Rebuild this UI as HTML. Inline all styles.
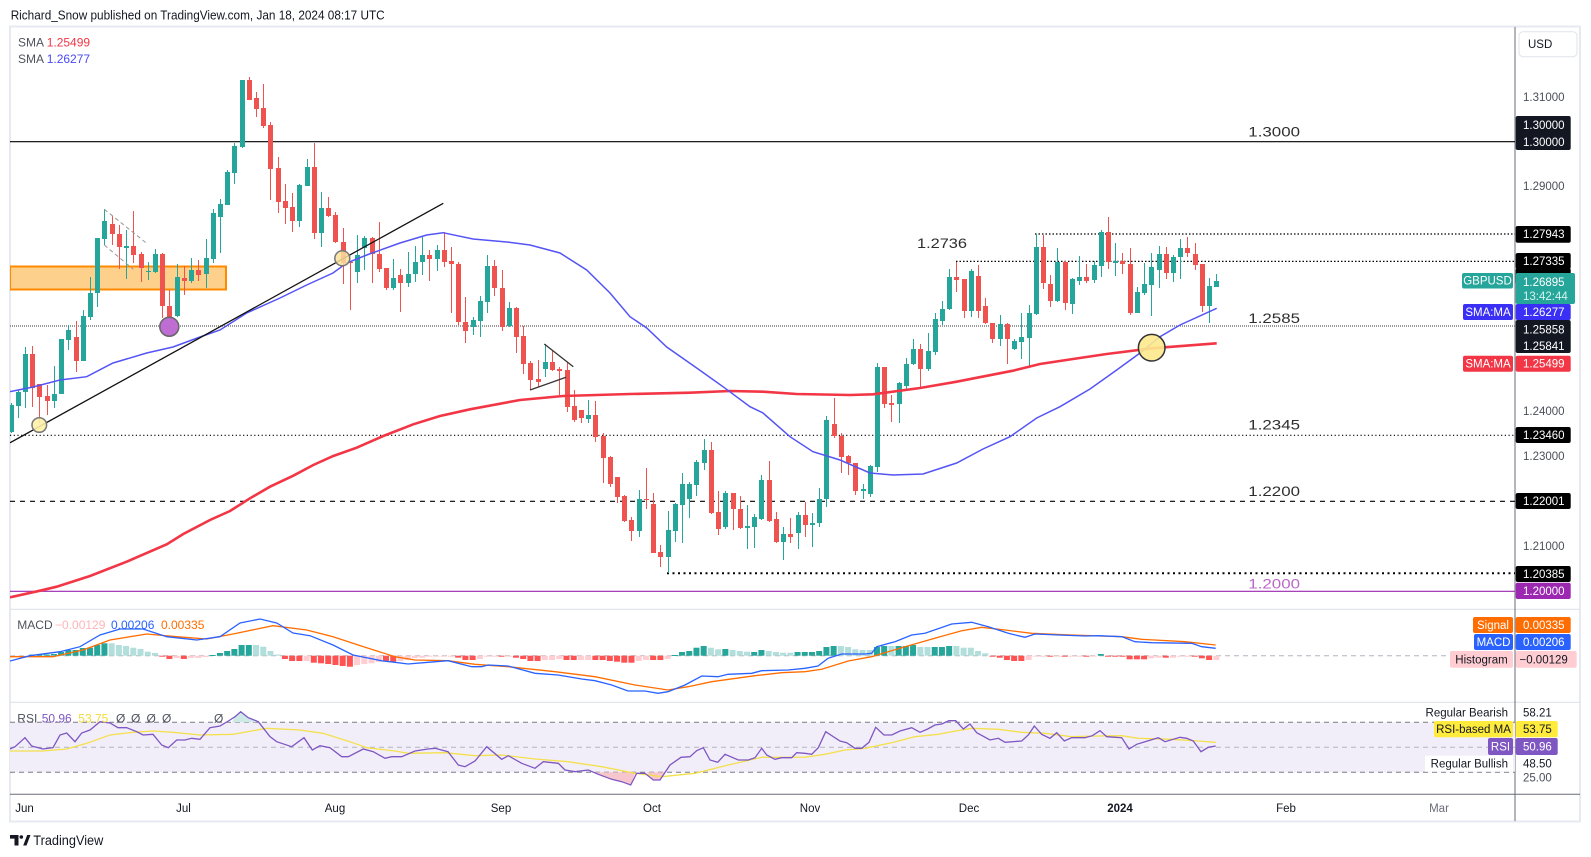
<!DOCTYPE html>
<html><head><meta charset="utf-8"><style>
html,body{margin:0;padding:0;background:#fff;}
svg{display:block;font-family:"Liberation Sans",Arial,sans-serif;}
</style></head><body>
<svg id="c" width="1591" height="857" viewBox="0 0 1591 857" xmlns="http://www.w3.org/2000/svg">
<defs>
<clipPath id="mp"><rect x="10" y="27" width="1505" height="582"/></clipPath>
<clipPath id="mc"><rect x="10" y="610" width="1505" height="92"/></clipPath>
<clipPath id="rc"><rect x="10" y="703" width="1505" height="91"/></clipPath>
</defs>
<rect width="1591" height="857" fill="#fff"/>
<text x="10.7" y="19.5" font-size="12.5" fill="#131722" textLength="374" lengthAdjust="spacingAndGlyphs">Richard_Snow published on TradingView.com, Jan 18, 2024 08:17 UTC</text>

<!-- frame -->
<rect x="10" y="26.5" width="1570" height="795" fill="none" stroke="#e6e9f0" stroke-width="2"/>
<line x1="10" x2="1580" y1="609.3" y2="609.3" stroke="#e0e3eb" stroke-width="1.2"/>
<line x1="10" x2="1580" y1="702.3" y2="702.3" stroke="#e0e3eb" stroke-width="1.2"/>
<line x1="10" x2="1580" y1="794.3" y2="794.3" stroke="#6a6d78" stroke-width="1"/>
<line x1="1515" x2="1515" y1="27" y2="821" stroke="#6a6d78" stroke-width="1"/>

<!-- USD box -->
<rect x="1519" y="31.7" width="58" height="25" rx="4" fill="#fff" stroke="#e0e3eb"/>
<text x="1528" y="48" font-size="11.5" fill="#131722">USD</text>

<!-- main pane -->
<g clip-path="url(#mp)">
<rect x="10" y="266.5" width="216" height="23" fill="#fdd08c" stroke="#ff8a00" stroke-width="2"/>
<line x1="10" x2="1515" y1="141.7" y2="141.7" stroke="#000" stroke-width="1.2"/>
<line x1="1035" x2="1515" y1="234" y2="234" stroke="#000" stroke-width="1.2" stroke-dasharray="1.5,2"/>
<line x1="956" x2="1515" y1="261.4" y2="261.4" stroke="#000" stroke-width="1.2" stroke-dasharray="1.5,2"/>
<line x1="10" x2="1515" y1="326" y2="326" stroke="#787878" stroke-width="1.4" stroke-dasharray="1,1"/>
<line x1="10" x2="1515" y1="435.3" y2="435.3" stroke="#000" stroke-width="1.2" stroke-dasharray="1.2,2.5"/>
<line x1="10" x2="1515" y1="501.3" y2="501.3" stroke="#000" stroke-width="1.2" stroke-dasharray="5,5"/>
<line x1="667" x2="1515" y1="573.3" y2="573.3" stroke="#000" stroke-width="2" stroke-dasharray="2,3.5"/>
<line x1="10" x2="1515" y1="591.3" y2="591.3" stroke="#9c27b0" stroke-width="1.2"/>
<g id="candles"></g>
<polyline fill="none" stroke="#f23645" stroke-width="2.6" points="10,597.3 40,590.7 56.7,586.7 90,576 126.7,561.7 166.7,544.3 183.3,534 210,520 230,511 250,498.3 270,486.7 293.3,475.7 313.3,465 333.3,456 356.7,447.7 383.3,436 413.3,424.3 440,416 470,409.3 520,400 563,396 630,394 690,392.7 730,391 763,391.7 796.7,394 850,395 873,394.3 920,388 956.7,381.7 1013,370.7 1040,364 1073,359 1106.7,354 1151.7,348.3 1216.7,343.3"/>
<polyline fill="none" stroke="#5454f5" stroke-width="1.5" points="10,391.7 33,387 60,380 86.7,376.7 113,363 146.7,353 173,347 200,337 220,330 246.7,313 280,298 306.7,285 333,273 346.7,263 366.7,255 400,243 426.7,235 443,232.7 473,239 506.7,242 530,245 560,253 586.7,270 610,293 630,316.7 646.7,328 666.7,347 696.7,368 723,386.7 750,406.7 763,413 790,436.7 813,451.7 840,460 870,473 893,475 923,474 956.7,463 983,449 1010,436.7 1036.7,418 1060,406.7 1090,389 1116.7,370 1140,353 1160,336.7 1180,325 1216.7,308.3"/>
<!-- drawings -->
<line x1="10" y1="442.8" x2="443.3" y2="203.3" stroke="#111" stroke-width="1.3"/>
<line x1="104.3" y1="209.3" x2="146.7" y2="243.3" stroke="#9a9a9a" stroke-width="1" stroke-dasharray="4,3"/>
<line x1="104.3" y1="245" x2="133.3" y2="269.3" stroke="#9a9a9a" stroke-width="1" stroke-dasharray="4,3"/>
<line x1="544.3" y1="344" x2="573.3" y2="366.7" stroke="#333" stroke-width="1.3"/>
<line x1="530" y1="390" x2="566" y2="377.3" stroke="#333" stroke-width="1.3"/>
<circle cx="39.3" cy="425" r="7.3" fill="#fff1a8" fill-opacity="0.9" stroke="#777" stroke-width="1.5"/>
<circle cx="342.3" cy="258.3" r="7.5" fill="#fbe09c" fill-opacity="0.85" stroke="#777" stroke-width="1.5"/>
<circle cx="169.3" cy="326.7" r="9.5" fill="#be6ed2" stroke="#666" stroke-width="1.5"/>
<circle cx="1151.7" cy="347.7" r="13.3" fill="#fde98c" fill-opacity="0.9" stroke="#333" stroke-width="1.5"/>
</g>

<!-- level texts -->
<g font-size="14" fill="#2e2e2e">
<text x="917" y="248" textLength="50" lengthAdjust="spacingAndGlyphs">1.2736</text>
<text x="1248.3" y="136.7" textLength="51.7" lengthAdjust="spacingAndGlyphs">1.3000</text>
<text x="1248.3" y="323" textLength="51.7" lengthAdjust="spacingAndGlyphs">1.2585</text>
<text x="1248.3" y="429.5" textLength="51.7" lengthAdjust="spacingAndGlyphs">1.2345</text>
<text x="1248.3" y="496" textLength="51.7" lengthAdjust="spacingAndGlyphs">1.2200</text>
<text x="1248.3" y="588.3" textLength="51.7" lengthAdjust="spacingAndGlyphs" fill="#ba68c8">1.2000</text>
</g>

<!-- SMA legend -->
<g font-size="12">
<text x="18" y="46.5" fill="#50535e">SMA</text><text x="46.7" y="46.5" fill="#f23645">1.25499</text>
<text x="18" y="63.2" fill="#50535e">SMA</text><text x="46.7" y="63.2" fill="#4a4af5">1.26277</text>
</g>

<!-- MACD pane -->
<line x1="10" x2="1446" y1="655.7" y2="655.7" stroke="#b2b5be" stroke-width="1" stroke-dasharray="5,4"/>
<g clip-path="url(#mc)">
<g id="hist"></g>
<polyline fill="none" stroke="#ff6d00" stroke-width="1.3" points="10,656.7 53,656.7 83,650 110,640 146.7,634 176.7,636.7 206.7,639 233,634 273,625.7 306.7,630 333,636.7 366.7,647.7 395,656.7 415,660 448,660.7 475,664.3 508,666.7 555,671.7 595,676.7 635,685 668,690 688,686.7 711.7,681.7 755,675.7 781.7,672.7 805,671.7 821.7,669.3 848.3,661 871.7,656.7 905,646.7 938.3,637.3 961.7,630.7 981.7,627.3 1005,630 1031.7,633.3 1071.7,635 1121.7,636.7 1141.7,639.3 1185,641.7 1215.7,645"/>
<polyline fill="none" stroke="#2962ff" stroke-width="1.3" points="10,661 30,655.7 60,651.7 80,646.7 100,635 120,629 143,629 166.7,636.7 196.7,640 220,636.7 240,623 260,619 276.7,623 293,633 310,635.7 333,645 353,655 383,661 395,662.3 408,664 428,662.3 448,660.7 471.7,666.7 481.7,666.7 488,665 508,666 535,673.3 558,675 581.7,679 595,680.7 611.7,685 628,691 645,691 658,693.3 668,691.7 685,685 701.7,676 718,676.7 728,674.3 751.7,673.3 761.7,670.7 788,670 805,668.3 818,666 828,658.3 841.7,654 865,654 871.7,653.3 876.7,646.7 895,641.7 911.7,635 925,633.3 951.7,624 971.7,622.3 988.3,626.7 1008.3,633.3 1025,637.3 1035,634 1058.3,635 1085,636 1098.3,635.7 1121.7,636.7 1135,641.7 1151.7,642.7 1191.7,643.3 1201.7,646.7 1215.7,648.3"/>
</g>
<g font-size="12">
<text x="17.3" y="629.2" fill="#50535e">MACD</text>
<text x="55" y="629.2" fill="#ffb3ba">−0.00129</text>
<text x="111" y="629.2" fill="#2962ff">0.00206</text>
<text x="161" y="629.2" fill="#ff6d00">0.00335</text>
</g>

<!-- RSI pane -->
<g clip-path="url(#rc)">
<rect x="10" y="722.3" width="1505" height="50" fill="#f2eef9"/>
<line x1="10" x2="1515" y1="722.3" y2="722.3" stroke="#787b86" stroke-dasharray="5,4"/>
<line x1="10" x2="1515" y1="747.3" y2="747.3" stroke="#b2b5be" stroke-dasharray="5,4"/>
<line x1="10" x2="1515" y1="772.3" y2="772.3" stroke="#787b86" stroke-dasharray="5,4"/>
<polygon fill="#f7c6cc" points="592,772.3 598.3,774.3 611.7,779.3 621.7,781.7 630.7,785 635.5,772.3"/>
<polygon fill="#f7c6cc" points="647,772.3 653.3,780 660,780 665,772.3"/>
<polygon fill="#cdeae6" points="232,722.3 235,716.7 240.7,711.7 248.3,717.7 256,722.3"/>
<polyline fill="none" stroke="#f4e04d" stroke-width="1.3" points="10,751 43,751 66.7,749 86.7,743.3 110,735 133,732.3 153,731 173,732.3 200,735 233,734.3 266.7,728.3 300,730 323,733.3 350,741.7 366.7,747.7 395,751 408,753.3 445,752.7 475,755.7 501.7,755 535,759 568,761.7 601.7,766.7 635,773.3 661.7,776.7 695,773.3 728.3,765 761.7,757.3 805,757.2 825,754.3 845,750 865,748.3 891.7,742.7 915,736.7 938.3,734.3 951.7,731.7 971.7,728.3 998.3,729.3 1021.7,732.3 1045,733.3 1071.7,736.7 1098.3,736 1121.7,735.7 1138.3,738.3 1171.7,739.3 1198.3,741 1215.7,742.3"/>
<polyline fill="none" stroke="#7e57c2" stroke-width="1.3" points="10,749 15,746.7 25,737.7 31.7,746 43,749 53,747.7 60,735 66.7,733 75,741.7 81.7,733 90,730 100,721.7 110,723 118,727.7 126.7,727.7 136.7,731.7 143,735 153,734.3 161.7,745 168.3,747.7 176.7,740 185,740 191.7,738.3 200,739.3 210,727.7 220,726 230,720 235,716.7 240.7,711.7 248.3,717.7 258.3,721.7 270,736.7 276.7,741.7 291.7,746.7 304,737.7 312.3,750 320,745.7 330,747.7 341.7,756.7 348.3,756.7 363.3,749 373.3,751.7 385,758.3 391.7,756.7 401.7,756.7 415,751 428,749 435,748.3 448,751.7 458.3,765 465,766.7 475,761 486.7,746.7 501.7,759.3 508.3,755.7 521.7,763.3 535,768.3 543.3,761.7 558.3,763.3 565,770 575,771.7 588.3,770 598.3,774.3 611.7,779.3 621.7,781.7 630.7,785 636.7,773.3 645,773.3 653.3,780 660,780 670,765 681,757.3 690,756.7 696.7,750.7 703.3,747.7 710,760 717.7,762.3 725,754.3 738.3,760 748.3,760 755,757.7 761.7,748.3 766.7,755 775,759.3 781.7,757.7 791.7,757.7 796.7,752.7 805,753.3 811.7,754.3 818.3,747.7 825.7,731.7 840,741 846.7,742.7 855,748.3 861.7,748.3 869,742.3 875.7,727.3 884,735 891.7,735 900,731 911.7,727.7 920,732.3 927.7,729 935,725 941.7,724 949,720.7 955.7,720.7 963.3,729 970,724 976.7,732.7 990,740 998.3,738.3 1005,742.3 1021.7,741 1028.3,735 1034.3,726 1041.7,734.3 1050,738.3 1056.7,732.7 1064.3,741 1071.7,737.7 1085,737.7 1092.3,735.7 1100,730.7 1106.7,736.7 1121.7,737.7 1129,749 1136.7,744.3 1145,741.7 1158.3,737.7 1165,741.7 1180,737.3 1186.7,738.3 1193.3,741 1201,751.7 1208.3,747.3 1215.7,746"/>
</g>
<g font-size="12">
<text x="17.3" y="722.5" fill="#50535e">RSI</text>
<text x="41.7" y="722.5" fill="#7e57c2">50.96</text>
<text x="78.3" y="722.5" fill="#f2dc3a">53.75</text>
<text x="116" y="722.5" fill="#50535e">Ø</text>
<text x="131" y="722.5" fill="#50535e">Ø</text>
<text x="146.5" y="722.5" fill="#50535e">Ø</text>
<text x="162" y="722.5" fill="#50535e">Ø</text>
<text x="214" y="722.5" fill="#50535e">Ø</text>
</g>

<!-- right axis gray ticks -->
<g font-size="11.5" fill="#4c4f5a">
<text x="1523" y="100.8">1.31000</text>
<text x="1523" y="190">1.29000</text>
<text x="1523" y="414.8">1.24000</text>
<text x="1523" y="459.8">1.23000</text>
<text x="1523" y="549.8">1.21000</text>
</g>

<!-- right axis labels -->
<g font-size="11.5">
<rect x="1515.7" y="116" width="55" height="34" rx="2" fill="#131722"/>
<text x="1523" y="128.8" fill="#fff">1.30000</text>
<text x="1523" y="145.8" fill="#fff">1.30000</text>
<rect x="1515.7" y="226" width="55" height="16.7" rx="2" fill="#000"/>
<text x="1523" y="238.2" fill="#fff">1.27943</text>
<rect x="1515.7" y="268" width="55" height="16" rx="2" fill="#000"/>
<rect x="1515.7" y="253" width="55" height="16" rx="2" fill="#000"/>
<text x="1523" y="265.2" fill="#fff">1.27335</text>
<rect x="1462" y="273" width="51" height="15.5" rx="2" fill="#26a69a"/>
<text x="1487.5" y="284.7" fill="#fff" text-anchor="middle">GBPUSD</text>
<rect x="1515.7" y="273" width="59.3" height="31" rx="2" fill="#26a69a"/>
<text x="1523" y="285.8" fill="#fff">1.26895</text>
<text x="1523" y="299.8" fill="#d6f2ee">13:42:44</text>
<rect x="1463" y="304" width="50" height="16" rx="2" fill="#3a2ff5"/>
<text x="1488" y="316" fill="#fff" text-anchor="middle">SMA:MA</text>
<rect x="1515.7" y="304" width="55" height="16" rx="2" fill="#3a2ff5"/>
<text x="1523" y="316" fill="#fff">1.26277</text>
<rect x="1515.7" y="320" width="55" height="33" rx="2" fill="#131722"/>
<text x="1523" y="333.4" fill="#fff">1.25858</text>
<text x="1523" y="350" fill="#fff">1.25841</text>
<rect x="1463" y="355.7" width="50" height="16" rx="2" fill="#f23645"/>
<text x="1488" y="367.7" fill="#fff" text-anchor="middle">SMA:MA</text>
<rect x="1515.7" y="355.7" width="55" height="16" rx="2" fill="#f23645"/>
<text x="1523" y="367.7" fill="#fff">1.25499</text>
<rect x="1515.7" y="427" width="55" height="16" rx="2" fill="#000"/>
<text x="1523" y="439" fill="#fff">1.23460</text>
<rect x="1515.7" y="493" width="55" height="16" rx="2" fill="#000"/>
<text x="1523" y="505" fill="#fff">1.22001</text>
<rect x="1515.7" y="566" width="55" height="16" rx="2" fill="#000"/>
<text x="1523" y="578" fill="#fff">1.20385</text>
<rect x="1515.7" y="582.7" width="55" height="16.3" rx="2" fill="#9c27b0"/>
<text x="1523" y="595" fill="#fff">1.20000</text>

<rect x="1473" y="617" width="40" height="16" rx="2" fill="#ff6d00"/>
<text x="1493" y="629" fill="#fff" text-anchor="middle">Signal</text>
<rect x="1515.7" y="617" width="55" height="16" rx="2" fill="#ff6d00"/>
<text x="1523" y="629" fill="#fff">0.00335</text>
<rect x="1474" y="634" width="39" height="16" rx="2" fill="#2962ff"/>
<text x="1493.5" y="646" fill="#fff" text-anchor="middle">MACD</text>
<rect x="1515.7" y="634" width="55" height="16" rx="2" fill="#2962ff"/>
<text x="1523" y="646" fill="#fff">0.00206</text>
<rect x="1450" y="651" width="63" height="16.7" rx="2" fill="#ffcdd2"/>
<text x="1481.5" y="663.3" fill="#131722" text-anchor="middle">Histogram</text>
<rect x="1515.7" y="651" width="61" height="16.7" rx="2" fill="#ffcdd2"/>
<text x="1519.5" y="663.3" fill="#131722">−0.00129</text>

<text x="1508" y="716.5" fill="#131722" text-anchor="end">Regular Bearish</text>
<text x="1523" y="716.5" fill="#131722">58.21</text>
<rect x="1434" y="721" width="79" height="16.3" rx="2" fill="#ffeb3b"/>
<text x="1473.5" y="733.2" fill="#131722" text-anchor="middle">RSI-based MA</text>
<rect x="1515.7" y="721" width="42" height="16.3" rx="2" fill="#ffeb3b"/>
<text x="1523" y="733.2" fill="#131722">53.75</text>
<rect x="1488" y="738" width="25" height="17" rx="2" fill="#7e57c2"/>
<text x="1500.5" y="750.6" fill="#fff" text-anchor="middle">RSI</text>
<rect x="1515.7" y="738" width="42" height="17" rx="2" fill="#7e57c2"/>
<text x="1523" y="750.6" fill="#fff">50.96</text>
<rect x="1425" y="755.7" width="88" height="16" fill="#fff"/>
<text x="1508" y="767.5" fill="#131722" text-anchor="end">Regular Bullish</text>
<text x="1523" y="767.5" fill="#131722">48.50</text>
<text x="1523" y="781.5" fill="#4c4f5a">25.00</text>
</g>

<!-- time axis -->
<g font-size="11.5" fill="#131722" text-anchor="middle">
<text x="24.5" y="812">Jun</text>
<text x="183.5" y="812">Jul</text>
<text x="335" y="812">Aug</text>
<text x="501" y="812">Sep</text>
<text x="652" y="812">Oct</text>
<text x="810" y="812">Nov</text>
<text x="969" y="812">Dec</text>
<text x="1120" y="812" font-weight="bold">2024</text>
<text x="1286" y="812">Feb</text>
<text x="1439" y="812" fill="#6a6d78">Mar</text>
</g>

<!-- TradingView logo -->
<path d="M10 835 H18.5 V845.5 H14.5 V838.6 H10 Z" fill="#131722"/>
<circle cx="21.3" cy="837" r="1.8" fill="#131722"/>
<polygon points="23.2,845.5 27.2,835 30.5,835 26.5,845.5" fill="#131722"/>
<text x="33.3" y="845" font-size="13.5" fill="#131722" textLength="70" lengthAdjust="spacingAndGlyphs">TradingView</text>
</svg>
<script>
(function(){
var C="g405,432,403,433 g392,406,390,418 g354,392,347,408 r354,388,346,407 r384,397,384,423 r396,401,385,415 g394,401,366,408 g339,394,339,394 g330,340,325,350 r337,361,321,372 g316,361,310,361 g293,317,277,320 g238,293,238,307 g221,239,209,245 r224,234,216,245 r234,247,225,269 g246,248,230,279 r246,255,211,263 r254,268,252,282 g271,272,262,280 g254,272,249,273 r254,306,253,318 r306,317,290,325 g277,316,264,317 r278,281,266,295 g270,281,258,283 r270,275,260,281 g258,274,239,288 g213,259,209,263 g204,217,199,253 g172,205,170,205 g146,173,143,184 g80,147,80,148 r80,100,77,100 r98,109,92,117 r108,126,84,128 r125,169,122,200 r168,202,157,213 r201,208,184,224 r207,221,193,232 g185,221,184,227 g167,186,159,186 r167,233,143,239 g208,233,192,247 r208,216,197,217 r215,242,212,243 r242,263,228,284 r262,263,262,310 g255,272,235,283 g238,248,236,270 r238,254,237,283 r254,269,222,272 r268,288,268,290 g278,288,259,290 r275,283,269,312 g274,283,252,287 g262,274,246,282 g255,262,237,275 r255,259,250,281 g250,259,245,271 r250,262,232,267 r261,264,247,313 r264,322,262,325 r322,331,297,343 g320,327,317,335 g301,321,296,337 g266,302,255,313 r266,288,260,296 r288,327,270,331 g308,326,302,327 r308,337,307,353 r336,364,326,374 r363,380,361,390 r379,382,360,387 g362,369,344,377 r362,370,351,371 r369,371,367,395 r370,407,362,412 r406,420,390,422 r410,418,410,423 g415,419,400,423 r415,437,401,442 r436,458,433,483 r457,484,456,487 r477,497,477,503 r496,521,495,522 r520,531,517,541 g499,531,490,537 r499,500,468,509 r504,553,493,553 r552,557,545,567 g530,557,511,573 g504,531,503,542 g484,505,473,543 g484,499,482,518 g462,485,460,496 g450,463,439,470 r450,513,442,514 r512,529,491,535 g493,527,491,529 r493,509,493,530 r509,528,496,529 g526,528,505,549 g517,527,514,548 g480,519,475,520 r480,521,461,522 r519,542,512,543 g534,542,527,560 r534,537,518,543 g515,533,512,549 r515,525,502,537 g523,525,513,547 g499,523,488,527 g420,499,416,507 r424,436,398,438 r436,457,433,473 r456,463,455,475 r463,491,463,495 g489,491,484,499 g466,494,465,497 g367,467,363,472 r367,404,367,408 r403,405,395,422 g383,404,382,423 g364,386,358,390 g349,364,339,365 r349,369,344,388 g351,369,333,371 g319,352,313,355 g309,321,301,325 g277,309,269,310 r277,280,262,292 r279,311,279,318 g271,311,269,317 r276,311,265,318 r306,323,298,324 r323,339,323,343 g324,339,315,346 r324,339,323,364 g341,349,339,350 g337,342,313,359 g313,338,305,366 g247,314,234,315 r247,283,235,289 r284,301,275,307 g262,301,248,302 r262,303,261,310 g279,304,278,314 g277,281,256,285 r277,281,264,283 g265,280,261,283 g232,266,230,277 r232,262,217,269 g261,263,243,276 r261,264,253,274 r264,313,248,315 g292,313,287,313 g284,293,263,295 g267,285,253,316 g254,270,246,288 r254,273,247,279 g257,273,255,282 g248,257,239,279 r248,253,237,257 r254,265,243,270 r264,306,264,312 g286,306,278,323 g281,287,274,287".split(" ");
var s="";
for(var k=0;k<C.length;k++){
var i=k-2,x=25+7.22*i,c=C[k].charAt(0),v=C[k].substr(1).split(",").map(Number);
var col=c=="g"?"#26a69a":"#ef5350";
var wx=Math.round(x)+0.5;
s+='<line x1="'+wx+'" x2="'+wx+'" y1="'+v[2]+'" y2="'+v[3]+'" stroke="'+col+'" stroke-width="1"/>';
s+='<rect x="'+(wx-2.5)+'" y="'+v[0]+'" width="5" height="'+Math.max(v[1]-v[0],1)+'" fill="'+col+'"/>';
}
document.getElementById("candles").innerHTML=s;
var H="P657.5 P657 P656.5 D654.5 D654.5 D654.5 D654 D652 D650 D650 D648 D647.7 D645 D643.3 L643.3 L645 L646 L647.7 L649 L651.7 L653 R656.7 R659 P658 R659 P658 P658 P657 D655 D653 D651 D649 D645 D645 L645 L646.7 L651 L654.5 R659 R661 R661 P661 R662.7 R663.3 R664 R665 R666 R666.7 P665 P664 P663.3 P662 R661 R661.5 P661 P660 P658 P657.7 P656.7 P656 P656 P655.9 R657.7 R660 R660 P659 P656.7 P656 R656.7 P656.5 R657.7 R659 R661 R661 P660 P660 P659 R660 R660 P660 P660 R660 R660 R661 R661.7 R662.7 R662.7 P661 P660 R660 R660 P659 D655 D652 D651 D647.7 D646 L647.7 L649.3 D649 L650 L651 L651.7 D652 D650 L651 L652 L652.7 L652.7 D652 D652 D652 D651 D647 D646 L646 L647 L649.3 L650 L650 D647 D646 L646 D646 D646 D645 L647 L647 D647 D647 D646 L646 L647.7 L647.7 L651 L653.3 R656.7 R657.7 R660 R661 R661 P660 P656.7 P656.7 R656.7 P656 R656.7 P656.7 P656.7 R656.7 P656.7 D654 R656 R656 R656.7 R659.3 R659.3 R659.3 P658.3 P657.7 R657.7 P657.7 P656.7 P656.7 R656.7 R658.3 R660 P660".split(" ");
var cm={D:"#26a69a",L:"#b2dfdb",R:"#ff5252",P:"#ffcdd2"};
var z=655.7,h="";
for(var k=0;k<H.length;k++){
var i=k-2,x=25+7.22*i,c=H[k].charAt(0),y=parseFloat(H[k].substr(1));
var t=Math.min(y,z),b=Math.max(y,z);if(b-t<1)b=t+1;
h+='<rect x="'+(x-3).toFixed(2)+'" y="'+t+'" width="6" height="'+(b-t).toFixed(2)+'" fill="'+cm[c]+'"/>';
}
document.getElementById("hist").innerHTML=h;
})();
</script>
</body></html>
